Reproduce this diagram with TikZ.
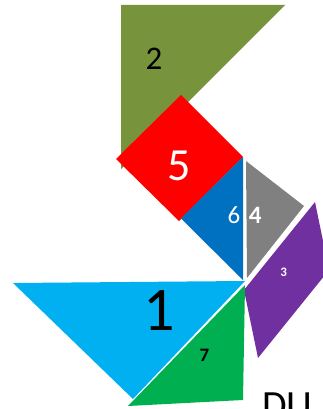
\documentclass[tikz,border=0pt]{standalone}
\usepackage{fontspec}
\setmainfont{Carlito}
\definecolor{olive}{HTML}{77933C}
\definecolor{pred}{HTML}{FF0000}
\definecolor{pblue}{HTML}{0070C0}
\definecolor{pgray}{HTML}{808080}
\definecolor{ppurple}{HTML}{7030A0}
\definecolor{plight}{HTML}{00B0F0}
\definecolor{pgreen}{HTML}{00B050}
\tikzset{
  piece/.style={fill=#1, draw=none},
  lbl/.style={inner sep=0pt, outer sep=0pt, anchor=center},
}
\newcommand{\fsz}[1]{\fontsize{#1}{#1}\selectfont}
\begin{document}
\begin{tikzpicture}[x=1pt,y=-1pt]
\useasboundingbox (0,0) rectangle (323,409);
\clip (0,0) rectangle (323,409);
% 2 olive triangle
\fill[piece=olive] (121,5) -- (285,5) -- (121,169) -- cycle;
% 5 red square
\fill[piece=pred] (181,95) -- (243,157) -- (179,221) -- (116,159) -- cycle;
% 6 blue triangle
\fill[piece=pblue] (243,157) -- (243,280) -- (181,218.5) -- cycle;
% 4 gray triangle
\fill[piece=pgray] (246,161) -- (304,206) -- (247,278) -- cycle;
% 3 purple parallelogram
\fill[piece=ppurple] (244,290) -- (315,202) -- (329,270) -- (258,358) -- cycle;
% 1 light blue triangle
\fill[piece=plight] (13,283) -- (245,281) -- (133,399) -- cycle;
% 7 green triangle
\fill[piece=pgreen] (245,285) -- (243,400) -- (128,406) -- cycle;
% labels
\node[lbl] (l2) at (154,59) {\fsz{33}2};
\node[lbl, text=white] (l5) at (179.5,166) {\fsz{46}5};
\node[lbl, text=white] (l6) at (234,215) {\fsz{25}6};
\node[lbl, text=white] (l4) at (255.3,215) {\fsz{25}\bfseries 4};
\node[lbl, text=white] (l3) at (283.7,272.5) {\fsz{13}\bfseries 3};
\node[lbl] (l1) at (159.5,310.5) {\fsz{62}1};
\node[lbl] (l7) at (204.5,355) {\fsz{19}\bfseries 7};
\node[inner sep=0pt, outer sep=0pt, anchor=base west] (du) at (262,418) {\fsz{40}DU};
\end{tikzpicture}
\end{document}
